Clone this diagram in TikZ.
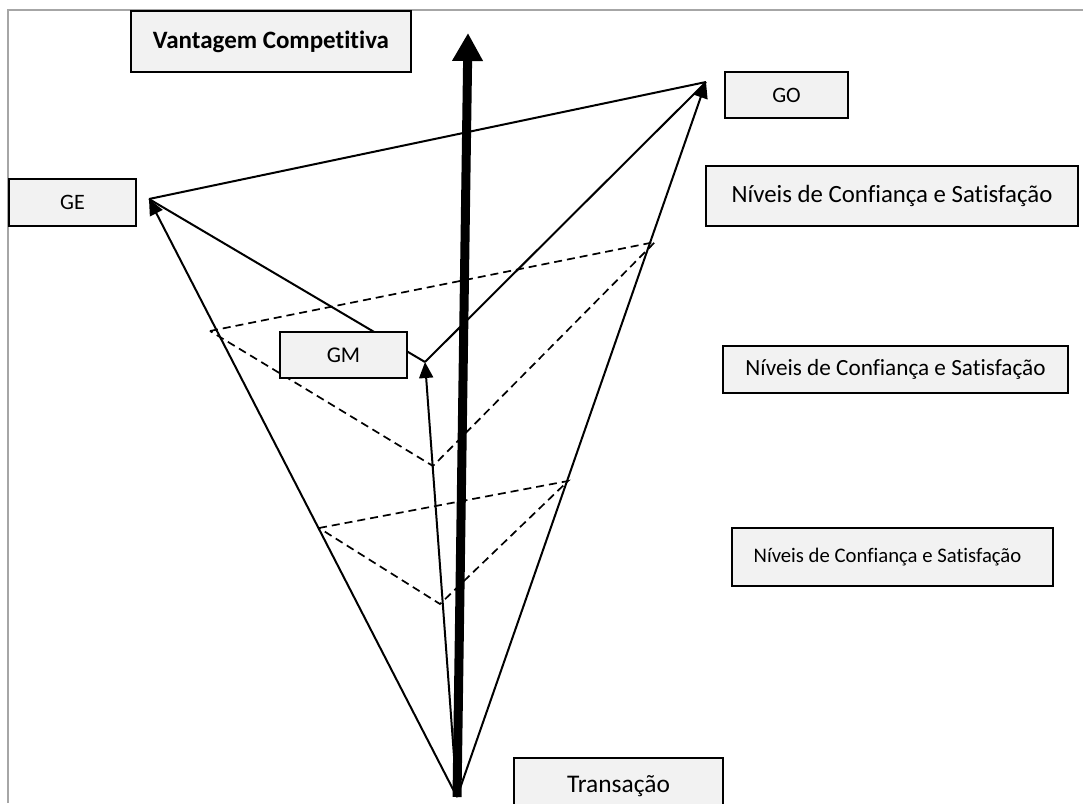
\documentclass[tikz,border=0pt]{standalone}
\usepackage{fontspec}
\setmainfont{Carlito}[Ligatures=NoCommon]
\usetikzlibrary{arrows.meta}
\definecolor{boxfill}{HTML}{F2F2F2}
\definecolor{framegray}{HTML}{A6A6A6}
\tikzset{
  lbl/.style={draw=black, line width=1.5pt, fill=boxfill, inner sep=0pt, align=center},
  conn/.style={line width=2pt, line join=round},
  thinarrow/.style={conn, -{Triangle[width=14pt,length=16pt]}},
  dashline/.style={line width=1.7pt, dash pattern=on 8pt off 5pt},
  bigarrow/.style={line width=9pt, -{Triangle[width=29pt,length=28pt]}}
}
\newcommand{\fs}[1]{\fontsize{#1}{#1}\selectfont}
\begin{document}
\begin{tikzpicture}[x=1pt,y=-1pt]
\clip (0,0) rectangle (1083,803);
\fill[white] (0,0) rectangle (1083,803);
% frame
\draw[framegray, line width=1.5pt] (8,803) -- (8,10) -- (1083,10);
% points
\coordinate (apex) at (457,797);
\coordinate (ge) at (149,199);
\coordinate (go) at (706,82);
\coordinate (gm) at (425,362);
\coordinate (vc) at (468,33);
\coordinate (u1) at (210,331);
\coordinate (u2) at (655,242);
\coordinate (u3) at (433,466);
\coordinate (l1) at (319,528);
\coordinate (l2) at (568,481);
\coordinate (l3) at (440,604);
% dashed triangles
\draw[dashline] (u1) -- (u2) -- (u3) -- cycle;
\draw[dashline] (l1) -- (l2) -- (l3) -- cycle;
% solid lines
\draw[conn] (ge) -- (go);
\draw[conn] (ge) -- (gm);
\draw[conn] (gm) -- (go);
% arrows from apex
\draw[thinarrow] (apex) -- (ge);
\draw[thinarrow] (apex) -- (go);
\draw[thinarrow] (apex) -- (gm);
\draw[bigarrow] (apex) -- (vc);
% boxes
\node[lbl, minimum width=280pt, minimum height=61pt] (vant) at (271,41.5) {\fs{25}\bfseries Vantagem Competitiva};
\node[lbl, minimum width=123pt, minimum height=46pt] (GO) at (786.5,95) {\fs{22}GO};
\node[lbl, minimum width=127pt, minimum height=47pt] (GE) at (72.5,202.5) {\fs{22}GE};
\node[lbl, minimum width=127pt, minimum height=46pt] (GM) at (343.5,355) {\fs{22.5}GM};
\node[lbl, minimum width=372pt, minimum height=60pt] (n1) at (892,196) {\fs{24.8}Níveis de Confiança e Satisfação};
\node[lbl, minimum width=345pt, minimum height=47pt] (n2) at (895.5,369.5) {\fs{23.2}Níveis de Confiança e Satisfação};
\node[lbl, minimum width=321pt, minimum height=58pt] (n3) at (892.5,557) {\fs{20.7}\raisebox{3pt}{Níveis de Confiança e Satisfação}\hspace{10pt}};
\node[lbl, minimum width=209pt, minimum height=56pt] (tr) at (618.5,786) {\fs{25.4}Transação};
\end{tikzpicture}
\end{document}
